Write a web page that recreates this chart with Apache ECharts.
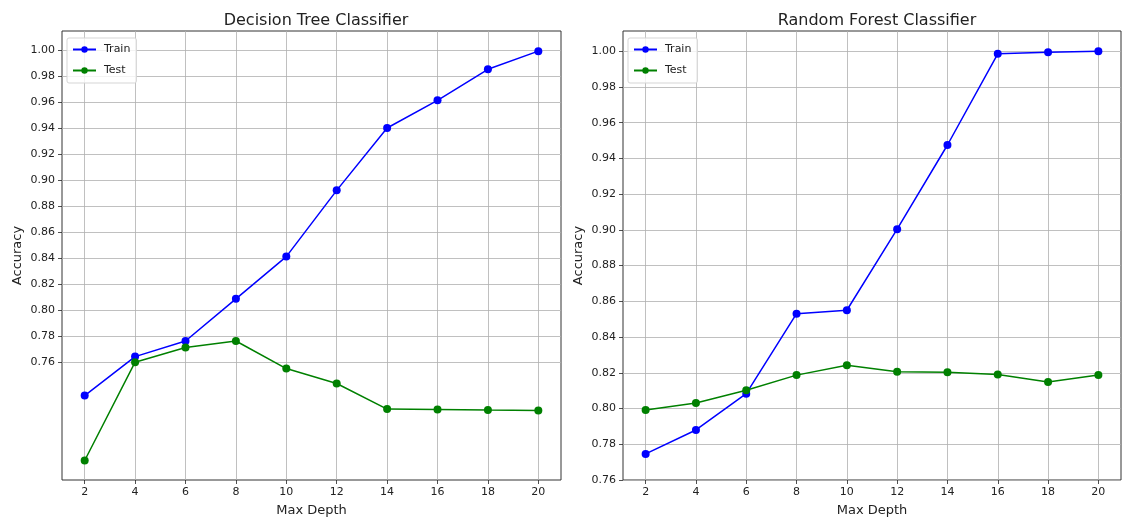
<!DOCTYPE html>
<html>
<head>
<meta charset="utf-8">
<script src="https://cdn.jsdelivr.net/npm/echarts@6/dist/echarts.min.js"></script>
<style>
  html, body { margin: 0; padding: 0; background: #fff; }
  #chart { width: 1124px; height: 525px; }
</style>
</head>
<body>
<div id="chart"></div>
<script>
// values
let depths = [2, 4, 6, 8, 10, 12, 14, 16, 18, 20];
let dtTrain = [0.734, 0.764, 0.776, 0.8085, 0.841, 0.892, 0.940, 0.9613, 0.9852, 0.9992];
let dtTest = [0.684, 0.7597, 0.771, 0.776, 0.7548, 0.7433, 0.7236, 0.7232, 0.7228, 0.7225];
let rfTrain = [0.7746, 0.788, 0.8083, 0.8531, 0.855, 0.9004, 0.9475, 0.9985, 0.9994, 1.000];
let rfTest = [0.7992, 0.8031, 0.8102, 0.8187, 0.8242, 0.8206, 0.8203, 0.8191, 0.8149, 0.8188];
let yTicks = [0.76, 0.78, 0.80, 0.82, 0.84, 0.86, 0.88, 0.90, 0.92, 0.94, 0.96, 0.98, 1.00];
let titles = ['Decision Tree Classifier', 'Random Forest Classifier'];

let font = 'DejaVu Sans';
let ink = '#222';

let zip = (xs, ys) => xs.map((x, i) => [x, ys[i]]);

function xAxis(idx) {
  return {
    type: 'value', gridIndex: idx, min: 1.1, max: 20.9,
    name: 'Max Depth', nameLocation: 'middle', nameGap: 24,
    nameTextStyle: {fontFamily: font, fontSize: 13, color: ink},
    axisLine: {show: false},
    axisTick: {show: true, length: 4, lineStyle: {color: ink, width: 0.8}, customValues: depths},
    axisLabel: {fontFamily: font, fontSize: 11, color: ink, margin: 7, customValues: depths},
    splitLine: {show: true, lineStyle: {color: '#b0b0b0', width: 0.8}}
  };
}

function yAxis(idx, min, max) {
  return {
    type: 'value', gridIndex: idx, min: min, max: max,
    name: 'Accuracy', nameLocation: 'middle', nameGap: 38,
    nameTextStyle: {fontFamily: font, fontSize: 13, color: ink},
    axisLine: {show: false},
    axisTick: {show: true, length: 4, lineStyle: {color: ink, width: 0.8}, customValues: yTicks},
    axisLabel: {
      fontFamily: font, fontSize: 11, color: ink, margin: 7, customValues: yTicks,
      formatter: v => v.toFixed(2)
    },
    splitLine: {show: true, lineStyle: {color: '#b0b0b0', width: 0.8}}
  };
}

function line(name, color, idx, data) {
  return {
    name: name, type: 'line', xAxisIndex: idx, yAxisIndex: idx,
    data: data, symbol: 'circle', symbolSize: 8,
    itemStyle: {color: color},
    lineStyle: {color: color, width: 1.5},
    z: name === 'Train' ? 3 : 4
  };
}

function legend(left) {
  return {
    left: left, top: 38, orient: 'vertical',
    data: ['Train', 'Test'],
    itemWidth: 23, itemHeight: 8, itemGap: 10,
    padding: [6, 6, 7, 5],
    backgroundColor: 'rgba(255,255,255,0.8)',
    borderColor: '#d5d5d5', borderWidth: 1, borderRadius: 2,
    textStyle: {fontFamily: font, fontSize: 11, color: ink, padding: [0, 0, 0, 3]}
  };
}

let chart = echarts.init(document.getElementById('chart'));
chart.setOption({
  animation: false,
  backgroundColor: '#fff',
  title: [
    {text: titles[0], left: 311, top: 8, textAlign: 'center',
     textStyle: {fontFamily: font, fontSize: 16, fontWeight: 'normal', color: ink}},
    {text: titles[1], left: 872, top: 8, textAlign: 'center',
     textStyle: {fontFamily: font, fontSize: 16, fontWeight: 'normal', color: ink}}
  ],
  legend: [legend(67), legend(628)],
  grid: [
    {left: 62, top: 31, width: 499, height: 449, show: true, borderColor: '#333', borderWidth: 1},
    {left: 623, top: 31, width: 498, height: 449, show: true, borderColor: '#333', borderWidth: 1}
  ],
  xAxis: [xAxis(0), xAxis(1)],
  yAxis: [yAxis(0, 0.669, 1.0147), yAxis(1, 0.76, 1.0113)],
  series: [
    line('Train', '#0000ff', 0, zip(depths, dtTrain)),
    line('Test', '#008000', 0, zip(depths, dtTest)),
    line('Train', '#0000ff', 1, zip(depths, rfTrain)),
    line('Test', '#008000', 1, zip(depths, rfTest))
  ]
});
</script>
</body>
</html>
